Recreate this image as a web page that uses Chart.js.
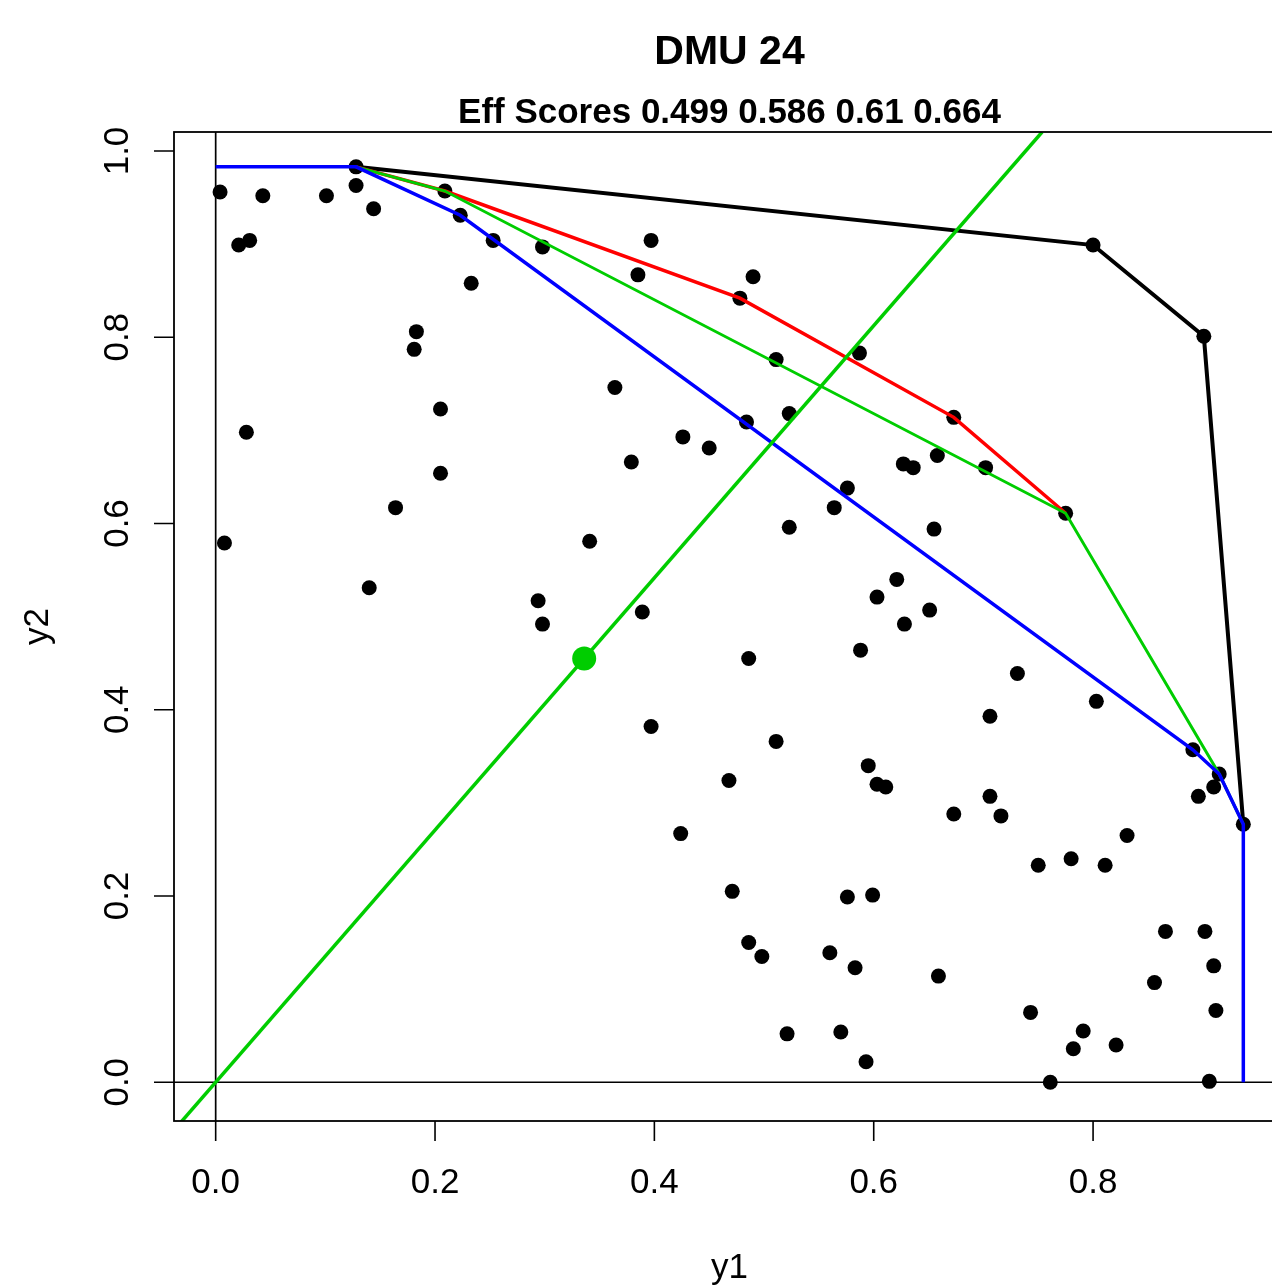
<!DOCTYPE html>
<html>
<head>
<meta charset="utf-8">
<script src="https://cdn.jsdelivr.net/npm/chart.js@4.4.0/dist/chart.umd.min.js"></script>
<style>
  html, body { margin: 0; padding: 0; background: #fff; overflow: hidden; }
</style>
</head>
<body>
<canvas id="dea" width="1300" height="1287"></canvas>
<script>
// DMU outputs (y1, y2)
const y1Vals = [0.004, 0.021, 0.031, 0.043, 0.101, 0.128, 0.128, 0.144, 0.209, 0.223,
  0.253, 0.298, 0.233, 0.183, 0.181, 0.205, 0.205, 0.028, 0.008, 0.164,
  0.140, 0.341, 0.294, 0.298, 0.364, 0.379, 0.385, 0.397, 0.389, 0.397,
  0.426, 0.450, 0.478, 0.490, 0.484, 0.511, 0.523, 0.523, 0.486, 0.511,
  0.468, 0.424, 0.471, 0.486, 0.498, 0.521, 0.560, 0.570, 0.576, 0.583,
  0.593, 0.599, 0.564, 0.576, 0.587, 0.588, 0.595, 0.603, 0.603, 0.611,
  0.621, 0.628, 0.627, 0.636, 0.658, 0.655, 0.651, 0.673, 0.659, 0.673,
  0.702, 0.706, 0.706, 0.716, 0.731, 0.743, 0.750, 0.761, 0.775, 0.780,
  0.782, 0.791, 0.803, 0.811, 0.821, 0.831, 0.800, 0.856, 0.866, 0.891,
  0.896, 0.901, 0.902, 0.906, 0.910, 0.910, 0.912, 0.915, 0.937];
const y2Vals = [0.956, 0.899, 0.904, 0.952, 0.952, 0.963, 0.983, 0.938, 0.957, 0.931,
  0.904, 0.897, 0.858, 0.806, 0.787, 0.723, 0.654, 0.698, 0.579, 0.617,
  0.531, 0.581, 0.517, 0.492, 0.746, 0.666, 0.867, 0.904, 0.505, 0.382,
  0.693, 0.681, 0.842, 0.865, 0.709, 0.776, 0.718, 0.596, 0.455, 0.366,
  0.324, 0.267, 0.205, 0.150, 0.135, 0.052, 0.139, 0.054, 0.199, 0.123,
  0.022, 0.201, 0.617, 0.638, 0.783, 0.464, 0.340, 0.521, 0.320, 0.317,
  0.540, 0.492, 0.664, 0.660, 0.673, 0.594, 0.507, 0.714, 0.114, 0.288,
  0.660, 0.393, 0.307, 0.286, 0.439, 0.075, 0.233, 0.000, 0.611, 0.240,
  0.036, 0.055, 0.409, 0.233, 0.040, 0.265, 0.899, 0.107, 0.162, 0.357,
  0.307, 0.801, 0.162, 0.001, 0.317, 0.125, 0.077, 0.331, 0.277];

// frontiers
const blackX = [0.128, 0.800, 0.901, 0.937];
const blackY = [0.983, 0.899, 0.801, 0.277];
const redX = [0.128, 0.209, 0.478, 0.673, 0.775];
const redY = [0.983, 0.957, 0.842, 0.714, 0.611];
const greenX = [0.128, 0.209, 0.775, 0.915, 0.937];
const greenY = [0.983, 0.957, 0.611, 0.331, 0.277];
const blueX = [0.000, 0.128, 0.223, 0.891, 0.915, 0.937, 0.937];
const blueY = [0.983, 0.983, 0.931, 0.357, 0.331, 0.277, 0.000];

// evaluated DMU
const dmuX = 0.336;
const dmuY = 0.455;

const xTicks = [0, 0.2, 0.4, 0.6, 0.8];
const xTickLabels = ["0.0", "0.2", "0.4", "0.6", "0.8"];
const yTicks = [0, 0.2, 0.4, 0.6, 0.8, 1.0];
const yTickLabels = ["0.0", "0.2", "0.4", "0.6", "0.8", "1.0"];

const titleText = "DMU 24";
const subText = "Eff Scores 0.499 0.586 0.61 0.664";

const X_MIN = -0.038, X_MAX = 0.975;
const Y_MIN = -0.0416, Y_MAX = 1.0204;

const pts = (xs, ys) => xs.map((v, i) => ({ x: v, y: ys[i] }));

const slope = dmuY / dmuX;
const rayData = [
  { x: X_MIN, y: X_MIN * slope },
  { x: Y_MAX / slope, y: Y_MAX }
];

const FONT = '"Liberation Sans", Arial, sans-serif';

const rDecor = {
  id: 'rDecor',
  beforeDatasetsDraw(chart) {
    const { ctx, chartArea: a, scales: { x, y } } = chart;
    const x0 = x.getPixelForValue(0);
    const y0 = y.getPixelForValue(0);
    ctx.save();
    ctx.strokeStyle = '#000';
    ctx.lineWidth = 1.7;
    ctx.beginPath();
    ctx.moveTo(a.left, y0); ctx.lineTo(a.right, y0);
    ctx.moveTo(x0, a.top); ctx.lineTo(x0, a.bottom);
    ctx.stroke();
    ctx.restore();
  },
  afterDraw(chart) {
    const { ctx, chartArea: a, scales: { x, y } } = chart;
    ctx.save();
    ctx.strokeStyle = '#000';
    ctx.lineWidth = 1.8;
    // box (right side falls off the page)
    ctx.strokeRect(a.left, a.top, a.right - a.left, a.bottom - a.top);

    // ticks
    ctx.lineWidth = 1.6;
    ctx.beginPath();
    xTicks.forEach(v => {
      const px = x.getPixelForValue(v);
      ctx.moveTo(px, a.bottom); ctx.lineTo(px, a.bottom + 20);
    });
    yTicks.forEach(v => {
      const py = y.getPixelForValue(v);
      ctx.moveTo(a.left, py); ctx.lineTo(a.left - 20, py);
    });
    ctx.stroke();

    ctx.fillStyle = '#000';
    ctx.font = '35px ' + FONT;
    ctx.textAlign = 'center';
    ctx.textBaseline = 'middle';
    xTicks.forEach((v, i) => {
      ctx.fillText(xTickLabels[i], x.getPixelForValue(v), a.bottom + 62);
    });
    yTicks.forEach((v, i) => {
      ctx.save();
      ctx.translate(a.left - 56, y.getPixelForValue(v));
      ctx.rotate(-Math.PI / 2);
      ctx.fillText(yTickLabels[i], 0, 0);
      ctx.restore();
    });

    // axis titles
    const cx = (a.left + a.right) / 2;
    ctx.fillText('y1', cx, a.bottom + 147);
    ctx.save();
    ctx.translate(38, (a.top + a.bottom) / 2);
    ctx.rotate(-Math.PI / 2);
    ctx.fillText('y2', 0, 0);
    ctx.restore();

    // titles
    ctx.font = 'bold 41px ' + FONT;
    ctx.fillText(titleText, cx, 53);
    ctx.font = 'bold 35px ' + FONT;
    ctx.fillText(subText, cx, 113);
    ctx.restore();
  }
};

const lineSet = (xs, ys, color, w, order) => ({
  data: pts(xs, ys),
  showLine: true,
  borderColor: color,
  borderWidth: w,
  pointRadius: 0,
  fill: false,
  order: order
});

new Chart(document.getElementById('dea').getContext('2d'), {
  type: 'scatter',
  data: {
    datasets: [
      {
        data: pts(y1Vals, y2Vals),
        backgroundColor: '#000',
        borderColor: '#000',
        pointRadius: 7.5,
        borderWidth: 0,
        order: 7
      },
      lineSet(blackX, blackY, '#000000', 4, 6),
      lineSet(redX, redY, '#FF0000', 3.5, 5),
      lineSet(greenX, greenY, '#00CD00', 3, 4),
      lineSet(blueX, blueY, '#0000FF', 3.5, 3),
      Object.assign(lineSet(rayData.map(p => p.x), rayData.map(p => p.y), '#00CD00', 3.5, 2), { clip: 0 }),
      {
        data: [{ x: dmuX, y: dmuY }],
        backgroundColor: '#00CD00',
        borderColor: '#00CD00',
        pointRadius: 12,
        borderWidth: 0,
        order: 1
      }
    ]
  },
  options: {
    responsive: false,
    animation: false,
    events: [],
    layout: { padding: { left: 174, top: 132, right: 15, bottom: 166 } },
    plugins: {
      legend: { display: false },
      tooltip: { enabled: false },
      title: { display: false }
    },
    scales: {
      x: { type: 'linear', min: X_MIN, max: X_MAX, display: false },
      y: { type: 'linear', min: Y_MIN, max: Y_MAX, display: false }
    }
  },
  plugins: [rDecor]
});
</script>
</body>
</html>
